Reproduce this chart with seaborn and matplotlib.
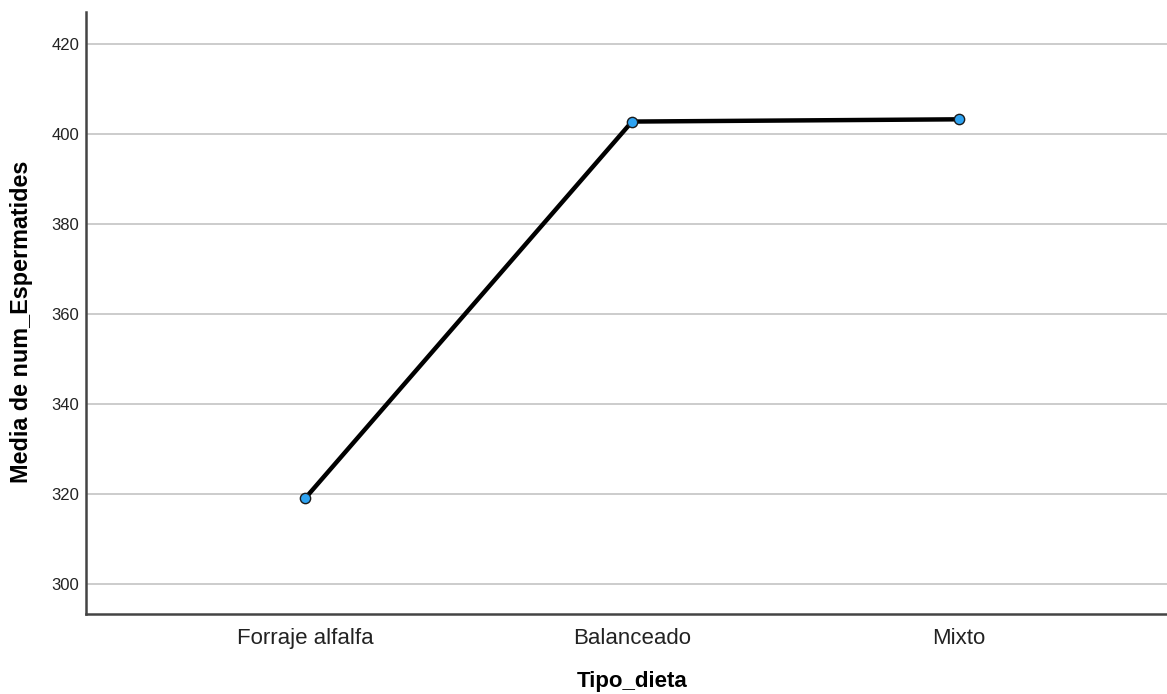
import matplotlib
matplotlib.use("Agg")
import matplotlib.pyplot as plt
import seaborn as sns
import pandas as pd

categories = ["Forraje alfalfa", "Balanceado", "Mixto"]
means = [319.0, 402.7, 403.2]
yticks = [300, 320, 340, 360, 380, 400, 420]

sns.set_theme(style="white")
plt.rcParams["font.family"] = ["Liberation Sans", "DejaVu Sans"]

df = pd.DataFrame({"Tipo_dieta": categories, "media": means})

fig = plt.figure(figsize=(11.67, 6.94), dpi=100)
ax = fig.add_axes([86 / 1167, 1 - 613.7 / 694, 1 - 86 / 1167, (613.7 - 11.7) / 694])

sns.lineplot(data=df, x="Tipo_dieta", y="media", color="black", linewidth=3.2,
             sort=False, ax=ax, zorder=3)
sns.scatterplot(data=df, x="Tipo_dieta", y="media", color="#2ea3f2", edgecolor="#1a1a1a",
                linewidth=1.0, s=55, ax=ax, zorder=4)

ax.set_xlim(-0.67, 2.636)
ax.set_ylim(293.4, 427.1)
ax.set_yticks(yticks)
ax.set_yticklabels([str(v) for v in yticks])
ax.yaxis.grid(True, color="#c8c8c8", linewidth=1.3)
ax.xaxis.grid(False)
ax.set_axisbelow(True)

for side in ["top", "right"]:
    ax.spines[side].set_visible(False)
for side in ["left", "bottom"]:
    ax.spines[side].set_color("#444444")
    ax.spines[side].set_linewidth(1.8)

ax.tick_params(axis="y", labelsize=12, colors="#222222", length=0, pad=5)
ax.tick_params(axis="x", labelsize=16, colors="#222222", length=0, pad=10)

ax.set_xlabel("Tipo_dieta", fontsize=16, fontweight="bold", color="black")
ax.set_ylabel("Media de num_Espermatides", fontsize=16.8, fontweight="bold", color="black")
ax.xaxis.set_label_coords(0.505, -0.095)
ax.yaxis.set_label_coords(-0.049, 0.4845)

fig.savefig("out.png", dpi=100)
